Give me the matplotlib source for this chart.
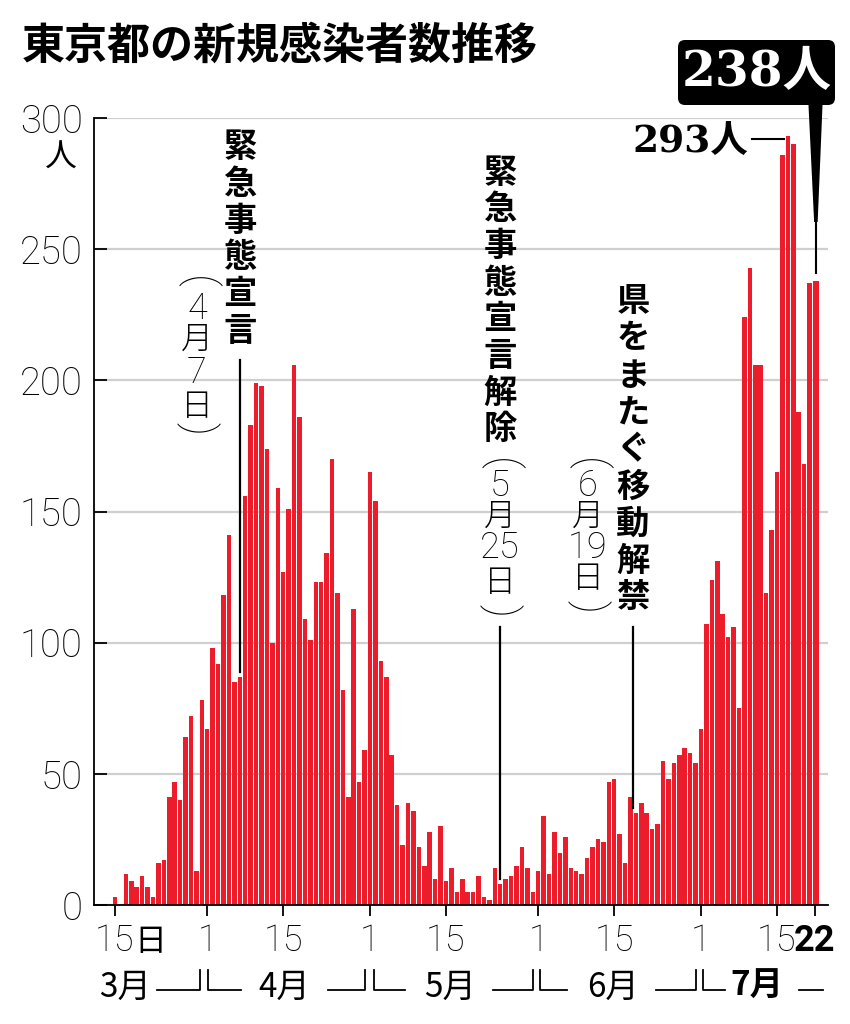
import numpy as np
import pandas as pd
import matplotlib
matplotlib.use('Agg')
import matplotlib.pyplot as plt
import matplotlib.transforms as mtransforms
from matplotlib.patches import FancyBboxPatch, Polygon

# 東京都の新規感染者数 (2020-03-15 .. 2020-07-22)
mar = [3, 0, 12, 9, 7, 11, 7, 3, 16, 17, 41, 47, 40, 64, 72, 13, 78]
apr = [67, 98, 92, 118, 141, 85, 87, 156, 183, 199, 198, 174, 100, 159, 127,
       151, 206, 186, 109, 101, 123, 123, 134, 170, 119, 82, 41, 113, 47, 59]
may = [165, 154, 93, 87, 57, 38, 23, 39, 36, 22, 15, 28, 10, 30, 9, 14, 5, 10,
       5, 5, 11, 3, 2, 14, 8, 10, 11, 15, 22, 14, 5]
jun = [13, 34, 12, 28, 20, 26, 14, 13, 12, 18, 22, 25, 24, 47, 48, 27, 16, 41,
       35, 39, 35, 29, 31, 55, 48, 54, 57, 60, 58, 54]
jul = [67, 107, 124, 131, 111, 102, 106, 75, 224, 243, 206, 206, 119, 143, 165,
       286, 293, 290, 188, 168, 237, 238]

cases = np.array(mar + apr + may + jun + jul)
dates = pd.date_range('2020-03-15', '2020-07-22')
day = np.arange(len(dates))

tick_dates = ['2020-03-15', '2020-04-01', '2020-04-15', '2020-05-01', '2020-05-15',
              '2020-06-01', '2020-06-15', '2020-07-01', '2020-07-15', '2020-07-22']
tick_labels = ['15', '1', '15', '1', '15', '1', '15', '1', '15', '22']
month_labels = ['3月', '4月', '5月', '6月', '7月']
yticks = [0, 50, 100, 150, 200, 250, 300]

events = [
    ('2020-04-07', '緊急事態宣言', ['4', '月', '7', '日']),
    ('2020-05-25', '緊急事態宣言解除', ['5', '月', '25', '日']),
    ('2020-06-19', '県をまたぐ移動解禁', ['6', '月', '19', '日']),
]
peak_label = '293人'
last_label = '238人'


def idx(d):
    return int((pd.Timestamp(d) - dates[0]).days)


# pixel -> data helpers (image is 850x1024, y grows downward)
X0, XS = 115, 5.426
Y0, YS = 905, 787 / 300


def dx(px):
    return (px - X0) / XS


def dy(py):
    return (Y0 - py) / YS


plt.rcParams['font.family'] = ['Roboto', 'Noto Sans CJK JP', 'DejaVu Sans']
JP = ['Noto Sans CJK JP', 'DejaVu Sans']
SERIF = ['DejaVu Serif', 'Noto Sans CJK JP']

fig = plt.figure(figsize=(8.5, 10.24), dpi=100)
ax = fig.add_axes([94 / 850, (1024 - 905) / 1024, (828 - 94) / 850, 787 / 1024])
pix = mtransforms.Affine2D().scale(1 / 850, -1 / 1024).translate(0, 1) + fig.transFigure

red = '#ec1c2a'
widths = np.full(len(day), 0.83)
widths[-1] = 1.15
xpos = day.astype(float)
xpos[-1] += 0.15
ax.bar(xpos, cases, width=widths, color=red, zorder=2)

ax.set_xlim(dx(94), dx(828))
ax.set_ylim(0, 300)
ax.set_yticks(yticks)
ax.set_yticklabels([str(v) for v in yticks])
ax.yaxis.grid(True, color='#cfcfcf', lw=1.6)
ax.set_axisbelow(True)
for s in ['top', 'right']:
    ax.spines[s].set_visible(False)
for s in ['left', 'bottom']:
    ax.spines[s].set_linewidth(1.3)
ax.tick_params(axis='y', direction='in', length=9, width=1.3, pad=8, labelsize=27.5)
for t in ax.get_yticklabels():
    t.set_fontweight('light')

ax.set_xticks([idx(d) for d in tick_dates])
ax.set_xticklabels(tick_labels)
ax.tick_params(axis='x', direction='out', length=8, width=1.3, pad=5, labelsize=26)
for t in ax.get_xticklabels():
    t.set_fontweight('light')
ax.get_xticklabels()[-1].set_fontweight('bold')

xt = ax.get_xaxis_transform()
ax.text(dx(150), -0.047, '日', transform=xt, ha='center', va='center',
        fontsize=23, family=JP)
ax.text(dx(61), dy(158), '人', ha='center', va='center', fontsize=23,
        family=JP, clip_on=False)

# month row with brackets
month_x = [125, 284, 450, 613, 757]
for i, (m, px) in enumerate(zip(month_labels, month_x)):
    ax.text(dx(px), -0.104, m, transform=xt, ha='center', va='center', fontsize=24,
            family=JP, weight='bold' if i == len(month_labels) - 1 else 'normal')
brackets = [(157, 200, 208, 241), (328, 365, 374, 405), (493, 533, 540, 567),
            (656, 696, 703, 725)]
yb, yt = -0.108, -0.0826
for a, b, c, d in brackets:
    ax.plot([dx(a), dx(b), dx(b)], [yb, yb, yt], transform=xt, color='black',
            lw=1.3, clip_on=False)
    ax.plot([dx(c), dx(c), dx(d)], [yt, yb, yb], transform=xt, color='black',
            lw=1.3, clip_on=False)
ax.plot([dx(799), dx(823)], [yb, yb], transform=xt, color='black', lw=1.3,
        clip_on=False)

# title
fig.text(22, 46, '東京都の新規感染者数推移', transform=pix, ha='left', va='center',
         fontsize=31, family=JP, weight='bold')


# vertical annotations
def vtext(x, y0, step, items, **kw):
    for i, s in enumerate(items):
        ax.text(x, dy(y0 + i * step), s, ha='center', va='center', clip_on=False, **kw)


def paren_col(x, ys, items):
    ax.text(x, dy(ys[0]), '(', rotation=-90, ha='center', va='center', fontsize=31,
            weight='light', clip_on=False)
    for s, y in zip(items, ys[1:-1]):
        size = 26 if s.isdigit() else 23
        ax.text(x, dy(y), s, ha='center', va='center', fontsize=size, weight='light',
                clip_on=False)
    ax.text(x, dy(ys[-1]), ')', rotation=-90, ha='center', va='center', fontsize=31,
            weight='light', clip_on=False)


ev_layout = [
    # bold x, bold top, step, paren x, paren ys, line top
    (240, 148, 36.6, 197, [282, 309, 340, 373, 407, 428], 360),
    (500, 173, 36.7, 500, [464, 486, 517, 548, 583, 610], 627),
    (633, 302, 37.0, 588, [464, 486, 517, 548, 580, 607], 627),
]
for (date, label, sub), (bx, by, st, px, pys, ltop) in zip(events, ev_layout):
    i = idx(date)
    vtext(dx(bx), by, st, list(label), fontsize=24, family=JP, weight='bold')
    paren_col(dx(px), pys, sub)
    ax.plot([dx(bx), dx(bx)], [dy(ltop), cases[i] + 2], color='black', lw=1.6,
            clip_on=False, zorder=3)

# peak label
ipk = int(np.argmax(cases))
ax.text(dx(748), dy(142), peak_label, ha='right', va='center', fontsize=27,
        family=SERIF, weight='bold', clip_on=False)
ax.plot([dx(752), ipk - 0.7], [cases[ipk] - 1, cases[ipk] - 1], color='black',
        lw=1.5, clip_on=False)

# latest value callout
box = FancyBboxPatch((678, 40), 157, 65, boxstyle='round,pad=0,rounding_size=7',
                     transform=pix, fc='black', ec='none', clip_on=False)
fig.patches.append(box)
fig.text(757, 73, last_label, transform=pix, ha='center', va='center', fontsize=35,
         family=SERIF, weight='bold', color='white')
ilast = len(cases) - 1
xl = xpos[-1]
wedge = Polygon([(xl - 1.35, dy(104)), (xl + 1.25, dy(104)), (xl + 0.35, dy(222)),
                 (xl - 0.3, dy(222))], closed=True, fc='black', ec='none',
                clip_on=False)
ax.add_patch(wedge)
ax.plot([xl, xl], [dy(222), cases[ilast] + 3], color='black', lw=1.5, clip_on=False)

fig.savefig('out.png', dpi=100)
